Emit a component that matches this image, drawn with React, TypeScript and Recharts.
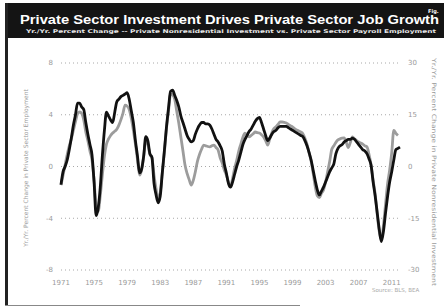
import { LineChart, Line, XAxis, YAxis, CartesianGrid } from 'recharts'

// quarterly, Q1..Q4 per year, 1971Q1 - 2012Q1
const years = [
  1971, 1972, 1973, 1974, 1975, 1976, 1977, 1978, 1979, 1980, 1981, 1982, 1983, 1984,
  1985, 1986, 1987, 1988, 1989, 1990, 1991, 1992, 1993, 1994, 1995, 1996, 1997, 1998,
  1999, 2000, 2001, 2002, 2003, 2004, 2005, 2006, 2007, 2008, 2009, 2010, 2011, 2012,
]

// private sector payroll employment, yr/yr % (left axis, black)
const employment: (number | null)[][] = [
  [-1.4, -0.4, 0.0, 0.5],
  [1.3, 2.2, 3.2, 4.0],
  [4.9, 4.9, 4.6, 4.4],
  [3.4, 2.5, 1.7, 0.9],
  [-1.2, -3.8, -3.2, -1.6],
  [0.8, 2.8, 4.2, 3.9],
  [3.6, 3.4, 4.2, 5.0],
  [5.2, 5.4, 5.5, 5.6],
  [5.7, 5.2, 4.3, 3.4],
  [2.0, 0.8, -0.5, -0.2],
  [0.8, 2.3, 2.0, 1.0],
  [0.7, -1.3, -2.2, -2.8],
  [-2.3, -0.5, 1.2, 3.0],
  [4.5, 5.8, 5.9, 5.5],
  [5.1, 4.6, 3.9, 3.4],
  [2.9, 2.4, 2.1, 1.9],
  [2.0, 2.5, 2.9, 3.2],
  [3.4, 3.4, 3.3, 3.3],
  [3.2, 2.9, 2.5, 2.1],
  [1.9, 1.6, 1.2, 0.2],
  [-0.5, -1.3, -1.6, -1.2],
  [-0.6, 0.0, 0.5, 1.1],
  [1.7, 2.1, 2.4, 2.7],
  [2.9, 3.2, 3.5, 3.7],
  [3.8, 3.4, 2.9, 2.4],
  [2.0, 2.2, 2.5, 2.7],
  [2.8, 3.0, 3.1, 3.1],
  [3.1, 3.1, 3.0, 2.9],
  [2.8, 2.7, 2.6, 2.5],
  [2.4, 2.3, 2.0, 1.6],
  [1.1, 0.5, -0.3, -1.1],
  [-1.8, -2.2, -1.9, -1.6],
  [-1.2, -0.8, -0.4, -0.1],
  [0.2, 1.0, 1.4, 1.6],
  [1.7, 1.9, 2.0, 2.1],
  [2.1, 2.2, 2.1, 1.9],
  [1.7, 1.5, 1.3, 1.2],
  [1.0, 0.6, 0.1, -1.2],
  [-2.3, -3.6, -4.9, -5.8],
  [-5.0, -3.6, -2.3, -1.2],
  [-0.4, 0.5, 1.3, 1.4],
  [1.5, null, null, null],
]

// private nonresidential investment, yr/yr % (right axis, gray)
const investment: (number | null)[][] = [
  [-5.4, -2.5, 0.5, 3.5],
  [6.0, 8.0, 10.5, 13.0],
  [15.3, 15.8, 15.4, 13.5],
  [10.0, 7.5, 4.5, 1.9],
  [-4.0, -11.5, -13.0, -8.5],
  [-2.5, 3.0, 6.5, 8.0],
  [9.0, 9.7, 10.2, 10.8],
  [12.0, 13.6, 15.5, 17.8],
  [17.5, 16.5, 14.0, 10.5],
  [6.5, 2.0, -2.5, -1.0],
  [3.0, 7.5, 6.5, 3.5],
  [2.5, -2.5, -6.5, -9.5],
  [-7.5, -2.0, 4.0, 11.0],
  [16.0, 21.0, 20.8, 19.5],
  [16.0, 12.5, 8.5, 4.5],
  [0.4, -2.0, -3.8, -5.4],
  [-4.0, -1.5, 1.5, 3.5],
  [5.0, 6.2, 6.0, 5.8],
  [5.7, 6.0, 6.2, 5.5],
  [4.8, 2.5, 1.0, -1.0],
  [-2.5, -4.5, -5.9, -3.5],
  [-0.5, 1.8, 4.5, 6.5],
  [8.5, 9.7, 9.2, 8.6],
  [9.0, 9.5, 10.0, 9.8],
  [9.7, 9.2, 8.6, 7.5],
  [6.2, 8.0, 9.8, 11.0],
  [11.5, 12.2, 12.9, 12.9],
  [12.8, 12.6, 12.2, 11.8],
  [11.5, 11.0, 10.6, 10.3],
  [10.0, 9.5, 8.2, 6.5],
  [4.0, 1.5, -2.0, -5.9],
  [-8.5, -9.0, -7.8, -6.8],
  [-4.5, -1.5, 1.5, 5.0],
  [6.0, 7.0, 7.7, 8.0],
  [8.2, 8.3, 7.0, 5.5],
  [7.0, 8.6, 8.0, 7.5],
  [7.1, 6.8, 6.5, 6.0],
  [5.7, 3.5, 0.5, -4.0],
  [-8.0, -14.0, -19.0, -21.3],
  [-17.0, -11.0, -5.0, -1.0],
  [4.0, 10.5, 9.6, 9.0],
  [null, null, null, null],
]

const xTicks = [1971, 1975, 1979, 1983, 1987, 1991, 1995, 1999, 2003, 2007, 2011]
const empTicks = [-8, -4, 0, 4, 8]
const invTicks = [-30, -15, 0, 15, 30]

const data = years.flatMap((y, i) =>
  [0, 1, 2, 3].map((q) => ({
    t: y + q / 4,
    emp: employment[i][q],
    inv: investment[i][q],
  }))
).filter((d) => d.t <= 2012)

const tickStyle = { fill: '#9a9a9a', fontSize: 7, fontFamily: 'DejaVu Sans' }

export default function App() {
  return (
    <div style={{ position: 'fixed', left: 0, top: 0, width: 444, height: 307, background: '#fff' }}>
      <LineChart
        width={444}
        height={307}
        data={data}
        margin={{ top: 63, right: 14, left: 31, bottom: 17 }}
      >
        <CartesianGrid
          yAxisId="emp"
          vertical={false}
          stroke="#a8a8a8"
          strokeDasharray="1 3"
        />
        <XAxis
          dataKey="t"
          type="number"
          domain={[1971, 2012]}
          ticks={xTicks}
          height={20}
          tickLine={false}
          axisLine={false}
          tick={tickStyle}
          tickMargin={4}
          interval={0}
        />
        <YAxis
          yAxisId="emp"
          width={30}
          domain={[-8, 8]}
          ticks={empTicks}
          tickLine={false}
          axisLine={false}
          tick={tickStyle}
        />
        <YAxis
          yAxisId="inv"
          orientation="right"
          width={30}
          domain={[-30, 30]}
          ticks={invTicks}
          tickLine={false}
          axisLine={false}
          tick={tickStyle}
        />
        <Line
          yAxisId="inv"
          dataKey="inv"
          type="monotone"
          stroke="#9c9c9c"
          strokeWidth={2.8}
          dot={false}
          isAnimationActive={false}
        />
        <Line
          yAxisId="emp"
          dataKey="emp"
          type="monotone"
          stroke="#111"
          strokeWidth={2.8}
          dot={false}
          isAnimationActive={false}
        />
      </LineChart>

      <svg
        width={444}
        height={307}
        style={{ position: 'absolute', left: 0, top: 0, pointerEvents: 'none' }}
      >
        <rect x={5} y={3} width={439} height={35} fill="#141414" />
        <rect x={5} y={3} width={3} height={303} fill="#222" />
        <line x1={5} y1={305.5} x2={300} y2={305.5} stroke="#888" strokeWidth={1} />
        <text
          x={20}
          y={24}
          fill="#fff"
          fontFamily="Liberation Sans"
          fontWeight="bold"
          fontSize={13.5}
          textLength={419}
          lengthAdjust="spacingAndGlyphs"
        >
          Private Sector Investment Drives Private Sector Job Growth
        </text>
        <text
          x={26}
          y={33}
          fill="#e8e8e8"
          fontFamily="DejaVu Sans"
          fontWeight="bold"
          fontSize={5}
          textLength={410}
          lengthAdjust="spacingAndGlyphs"
        >
          Yr./Yr. Percent Change -- Private Nonresidential Investment vs. Private Sector Payroll Employment
        </text>
        <text x={428} y={13} fill="#fff" fontFamily="DejaVu Sans" fontWeight="bold" fontSize={5}>
          Fig.
        </text>
        <text
          transform="translate(28,168) rotate(-90)"
          textAnchor="middle"
          fill="#9a9a9a"
          fontFamily="DejaVu Sans"
          fontSize={6}
        >
          Yr./Yr. Percent Change in Private Sector Employment
        </text>
        <text
          transform="translate(432,172) rotate(90)"
          textAnchor="middle"
          fill="#9a9a9a"
          fontFamily="DejaVu Sans"
          fontSize={6}
          textLength={228}
          lengthAdjust="spacingAndGlyphs"
        >
          Yr./Yr. Percent Change in Private Nonresidential Investment
        </text>
        <text x={372} y={292} fill="#a8a8a8" fontFamily="DejaVu Sans" fontSize={5.5}>
          Source: BLS, BEA
        </text>
      </svg>
    </div>
  )
}
